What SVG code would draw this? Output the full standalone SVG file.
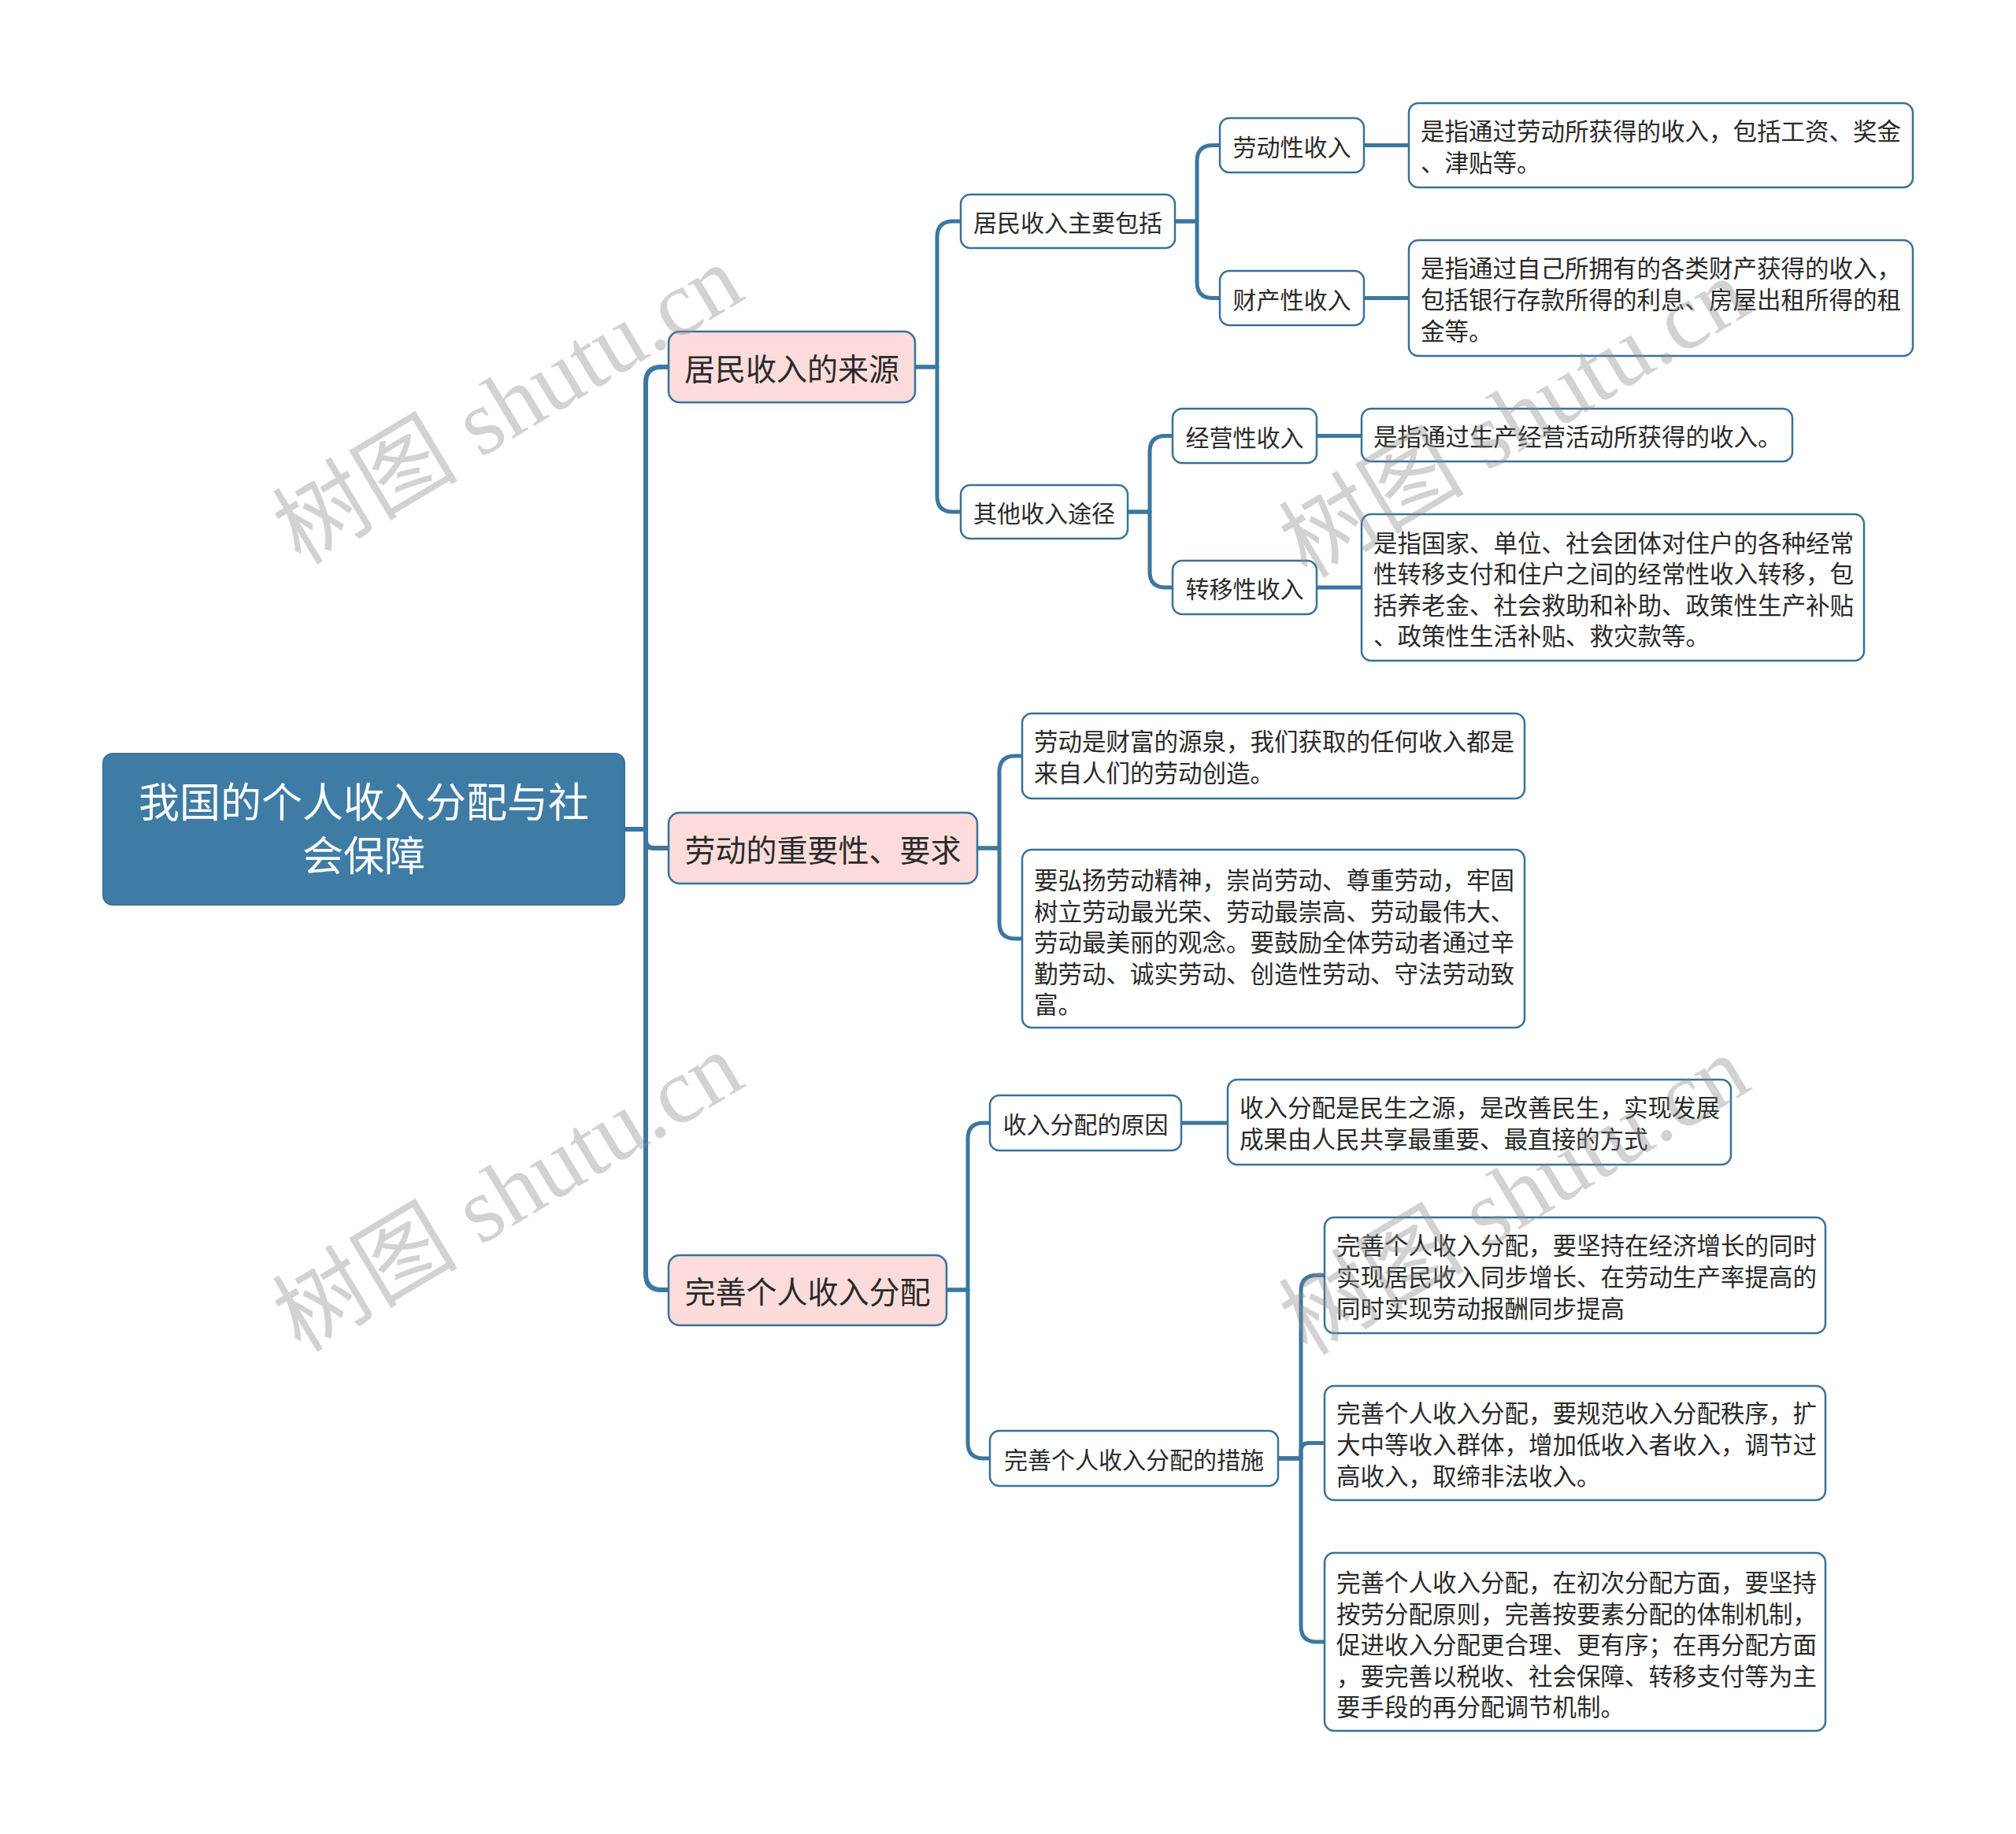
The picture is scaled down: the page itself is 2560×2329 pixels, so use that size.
<svg xmlns="http://www.w3.org/2000/svg" width="2560" height="2329" viewBox="0 0 2560 2329">
<style>
.bg{fill:#ffffff}
.root{fill:#3e7ca6;stroke:#3a7199;stroke-width:2}
.l1{fill:#fbdcdb;stroke:#3a7199;stroke-width:2.5}
.box{fill:#ffffff;stroke:#3a7199;stroke-width:2.5}
.conn{fill:none;stroke:#3b77a0;stroke-width:5;stroke-linecap:round;stroke-linejoin:round}
.main{stroke-width:6}
text{font-family:"Noto Sans CJK SC","Noto Sans",sans-serif;fill:#2a2a2a;dominant-baseline:central}
.tr{font-size:52px;fill:#ffffff;text-anchor:middle}
.t1{font-size:39px;text-anchor:middle}
.t2{font-size:30px;text-anchor:middle}
.tl{font-size:30.5px}
.wm{font-family:"Liberation Serif","Noto Sans CJK SC",serif;font-size:118px;fill:#8c8c8c;opacity:0.38;text-anchor:middle;dominant-baseline:alphabetic}
</style>
<rect class="bg" x="0" y="0" width="2560" height="2329"/>
<g id="connectors">
<path class="conn main" d="M793 1053 H820 V486 Q820 466 840 466 H849"/>
<path class="conn main" d="M793 1053 H820 V1067 Q820 1077 830 1077 H849"/>
<path class="conn main" d="M793 1053 H820 V1618 Q820 1638 840 1638 H849"/>
<path class="conn" d="M1162 466 H1190 V301 Q1190 281 1210 281 H1220"/>
<path class="conn" d="M1162 466 H1190 V630 Q1190 650 1210 650 H1220"/>
<path class="conn" d="M1241 1077 H1269 V980 Q1269 960 1289 960 H1298"/>
<path class="conn" d="M1241 1077 H1269 V1172 Q1269 1192 1289 1192 H1298"/>
<path class="conn" d="M1202 1638 H1229 V1446 Q1229 1426 1249 1426 H1257"/>
<path class="conn" d="M1202 1638 H1229 V1832 Q1229 1852 1249 1852 H1257"/>
<path class="conn" d="M1492 281 H1520 V204.5 Q1520 184.5 1540 184.5 H1549"/>
<path class="conn" d="M1492 281 H1520 V358.5 Q1520 378.5 1540 378.5 H1549"/>
<path class="conn" d="M1432 650 H1460 V573.5 Q1460 553.5 1480 553.5 H1489"/>
<path class="conn" d="M1432 650 H1460 V726 Q1460 746 1480 746 H1489"/>
<path class="conn" d="M1623 1852 H1652 V1639.5 Q1652 1619.5 1672 1619.5 H1682"/>
<path class="conn" d="M1623 1852 H1652 V1842.5 Q1652 1832.5 1662 1832.5 H1682"/>
<path class="conn" d="M1623 1852 H1652 V2065 Q1652 2085 1672 2085 H1682"/>
<path class="conn" d="M1732 184.5 H1789"/>
<path class="conn" d="M1732 378.5 H1789"/>
<path class="conn" d="M1672 553.5 H1729"/>
<path class="conn" d="M1672 746 H1729"/>
<path class="conn" d="M1500 1426 H1559"/>
</g>
<g id="root">
<rect class="root" x="131" y="957" width="662" height="192" rx="12"/>
<text class="tr" x="462" y="1015">我国的个人收入分配与社</text>
<text class="tr" x="462" y="1083">会保障</text>
</g>
<g id="n1">
<rect class="l1" x="849" y="421" width="313" height="90" rx="14"/>
<text class="t1" x="1005.5" y="466">居民收入的来源</text>
</g>
<g id="n2">
<rect class="l1" x="849" y="1032" width="392" height="90" rx="14"/>
<text class="t1" x="1045" y="1077">劳动的重要性、要求</text>
</g>
<g id="n3">
<rect class="l1" x="849" y="1594" width="353" height="89" rx="14"/>
<text class="t1" x="1025.5" y="1638">完善个人收入分配</text>
</g>
<g id="n1a">
<rect class="box" x="1220" y="247" width="272" height="68" rx="12"/>
<text class="t2" x="1356" y="281">居民收入主要包括</text>
</g>
<g id="n1b">
<rect class="box" x="1220" y="616" width="212" height="68" rx="12"/>
<text class="t2" x="1326" y="650">其他收入途径</text>
</g>
<g id="n1a1">
<rect class="box" x="1549" y="150" width="183" height="69" rx="12"/>
<text class="t2" x="1640.5" y="184.5">劳动性收入</text>
</g>
<g id="n1a2">
<rect class="box" x="1549" y="344" width="183" height="69" rx="12"/>
<text class="t2" x="1640.5" y="378.5">财产性收入</text>
</g>
<g id="n1b1">
<rect class="box" x="1489" y="519" width="183" height="69" rx="12"/>
<text class="t2" x="1580.5" y="553.5">经营性收入</text>
</g>
<g id="n1b2">
<rect class="box" x="1489" y="712" width="183" height="68" rx="12"/>
<text class="t2" x="1580.5" y="746">转移性收入</text>
</g>
<g id="leaf1">
<rect class="box" x="1789" y="131" width="640" height="107" rx="12"/>
<text class="tl" x="1804" y="165">是指通过劳动所获得的收入，包括工资、奖金</text>
<text class="tl" x="1804" y="205">、津贴等。</text>
</g>
<g id="leaf2">
<rect class="box" x="1789" y="305" width="640" height="147" rx="12"/>
<text class="tl" x="1804" y="339">是指通过自己所拥有的各类财产获得的收入，</text>
<text class="tl" x="1804" y="379">包括银行存款所得的利息、房屋出租所得的租</text>
<text class="tl" x="1804" y="419">金等。</text>
</g>
<g id="leaf3">
<rect class="box" x="1729" y="519" width="547" height="67" rx="12"/>
<text class="tl" x="1744" y="553">是指通过生产经营活动所获得的收入。</text>
</g>
<g id="leaf4">
<rect class="box" x="1729" y="653" width="638" height="186" rx="12"/>
<text class="tl" x="1744" y="687.5">是指国家、单位、社会团体对住户的各种经常</text>
<text class="tl" x="1744" y="727">性转移支付和住户之间的经常性收入转移，包</text>
<text class="tl" x="1744" y="766.5">括养老金、社会救助和补助、政策性生产补贴</text>
<text class="tl" x="1744" y="806">、政策性生活补贴、救灾款等。</text>
</g>
<g id="leaf5">
<rect class="box" x="1298" y="906" width="638" height="108" rx="12"/>
<text class="tl" x="1313" y="940">劳动是财富的源泉，我们获取的任何收入都是</text>
<text class="tl" x="1313" y="980">来自人们的劳动创造。</text>
</g>
<g id="leaf6">
<rect class="box" x="1298" y="1079" width="638" height="226" rx="12"/>
<text class="tl" x="1313" y="1116">要弘扬劳动精神，崇尚劳动、尊重劳动，牢固</text>
<text class="tl" x="1313" y="1155.5">树立劳动最光荣、劳动最崇高、劳动最伟大、</text>
<text class="tl" x="1313" y="1195">劳动最美丽的观念。要鼓励全体劳动者通过辛</text>
<text class="tl" x="1313" y="1234.5">勤劳动、诚实劳动、创造性劳动、守法劳动致</text>
<text class="tl" x="1313" y="1274">富。</text>
</g>
<g id="n3a">
<rect class="box" x="1257" y="1391" width="243" height="70" rx="12"/>
<text class="t2" x="1378.5" y="1426">收入分配的原因</text>
</g>
<g id="leaf7">
<rect class="box" x="1559" y="1371" width="639" height="108" rx="12"/>
<text class="tl" x="1574" y="1405">收入分配是民生之源，是改善民生，实现发展</text>
<text class="tl" x="1574" y="1445">成果由人民共享最重要、最直接的方式</text>
</g>
<g id="n3b">
<rect class="box" x="1257" y="1817" width="366" height="70" rx="12"/>
<text class="t2" x="1440" y="1852">完善个人收入分配的措施</text>
</g>
<g id="leaf8">
<rect class="box" x="1682" y="1546" width="636" height="147" rx="12"/>
<text class="tl" x="1697" y="1580">完善个人收入分配，要坚持在经济增长的同时</text>
<text class="tl" x="1697" y="1620">实现居民收入同步增长、在劳动生产率提高的</text>
<text class="tl" x="1697" y="1660">同时实现劳动报酬同步提高</text>
</g>
<g id="leaf9">
<rect class="box" x="1682" y="1760" width="636" height="145" rx="12"/>
<text class="tl" x="1697" y="1793">完善个人收入分配，要规范收入分配秩序，扩</text>
<text class="tl" x="1697" y="1833">大中等收入群体，增加低收入者收入，调节过</text>
<text class="tl" x="1697" y="1873">高收入，取缔非法收入。</text>
</g>
<g id="leaf10">
<rect class="box" x="1682" y="1972" width="636" height="226" rx="12"/>
<text class="tl" x="1697" y="2008">完善个人收入分配，在初次分配方面，要坚持</text>
<text class="tl" x="1697" y="2047.5">按劳分配原则，完善按要素分配的体制机制，</text>
<text class="tl" x="1697" y="2087">促进收入分配更合理、更有序；在再分配方面</text>
<text class="tl" x="1697" y="2126.5">，要完善以税收、社会保障、转移支付等为主</text>
<text class="tl" x="1697" y="2166">要手段的再分配调节机制。</text>
</g>
<g id="watermarks">
<text class="wm" transform="translate(645 514) rotate(-31)" x="0" y="40">树图 shutu.cn</text>
<text class="wm" transform="translate(645 1514) rotate(-31)" x="0" y="40">树图 shutu.cn</text>
<text class="wm" transform="translate(1923 531) rotate(-31)" x="0" y="40">树图 shutu.cn</text>
<text class="wm" transform="translate(1923 1518) rotate(-31)" x="0" y="40">树图 shutu.cn</text>
</g>
</svg>
